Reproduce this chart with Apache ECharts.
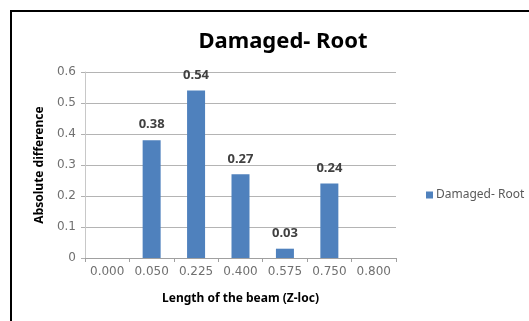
<!DOCTYPE html>
<html>
<head>
<meta charset="utf-8">
<script src="https://cdn.jsdelivr.net/npm/echarts@6/dist/echarts.min.js"></script>
<style>
html,body{margin:0;padding:0;background:#fff;overflow:hidden;}
#c{width:529px;height:321px;}
</style>
</head>
<body>
<div id="c"></div>
<script>
const categories = ['0.000', '0.050', '0.225', '0.400', '0.575', '0.750', '0.800'];
const values = [null, 0.38, 0.54, 0.27, 0.03, 0.24, null];
const seriesName = 'Damaged- Root';
const titleText = 'Damaged- Root';
const xName = 'Length of the beam (Z-loc)';
const yName = 'Absolute difference';

const chart = echarts.init(document.getElementById('c'), null, {renderer: 'canvas'});
chart.setOption({
  animation: false,
  backgroundColor: '#fff',
  graphic: [{
    type: 'polyline',
    shape: {points: [[11, 330], [11, 11], [540, 11]]},
    style: {fill: 'none', stroke: '#000', lineWidth: 2},
    silent: true
  }],
  title: {
    text: titleText,
    left: 278,
    textAlign: 'center',
    top: 26,
    textStyle: {fontFamily: 'Noto Sans', fontWeight: 'bold', fontSize: 22, color: '#000'}
  },
  legend: {
    orient: 'vertical',
    left: 421,
    top: 184,
    icon: 'rect',
    itemWidth: 7,
    itemHeight: 7,
    itemGap: 4,
    textStyle: {fontFamily: 'Noto Sans', fontSize: 12, color: '#595959', padding: [0, 0, 0, -2]},
    data: [seriesName]
  },
  grid: {left: 85, right: 133, top: 72, bottom: 63, containLabel: false},
  xAxis: {
    type: 'category',
    data: categories,
    name: xName,
    nameLocation: 'middle',
    nameGap: 35,
    nameTextStyle: {fontFamily: 'Noto Sans', fontWeight: 'bold', fontSize: 12, color: '#000'},
    axisLine: {lineStyle: {color: '#a0a0a0', width: 1}},
    axisTick: {show: true, interval: 0, length: 4, lineStyle: {color: '#a0a0a0'}},
    axisLabel: {interval: 0, hideOverlap: false, fontFamily: 'DejaVu Sans', fontSize: 12, color: '#707070', margin: 8}
  },
  yAxis: {
    type: 'value',
    min: 0,
    max: 0.6,
    interval: 0.1,
    name: yName,
    nameLocation: 'middle',
    nameGap: 39,
    nameTextStyle: {fontFamily: 'Noto Sans', fontWeight: 'bold', fontSize: 12, color: '#000'},
    axisLine: {show: true, lineStyle: {color: '#c8c8c8'}},
    axisTick: {show: true, length: 4, lineStyle: {color: '#b0b0b0'}},
    axisLabel: {fontFamily: 'DejaVu Sans', fontSize: 12, color: '#707070', margin: 9},
    splitLine: {show: true, lineStyle: {color: '#b4b4b4', width: 1}}
  },
  series: [{
    name: seriesName,
    type: 'bar',
    data: values,
    barWidth: 18,
    itemStyle: {color: '#4F81BD'},
    label: {
      show: true,
      position: 'top',
      distance: 9,
      fontFamily: 'Noto Sans',
      fontWeight: 'bold',
      fontSize: 13,
      color: '#404040',
      formatter: p => p.value == null ? '' : p.value.toFixed(2)
    }
  }]
});
</script>
</body>
</html>
